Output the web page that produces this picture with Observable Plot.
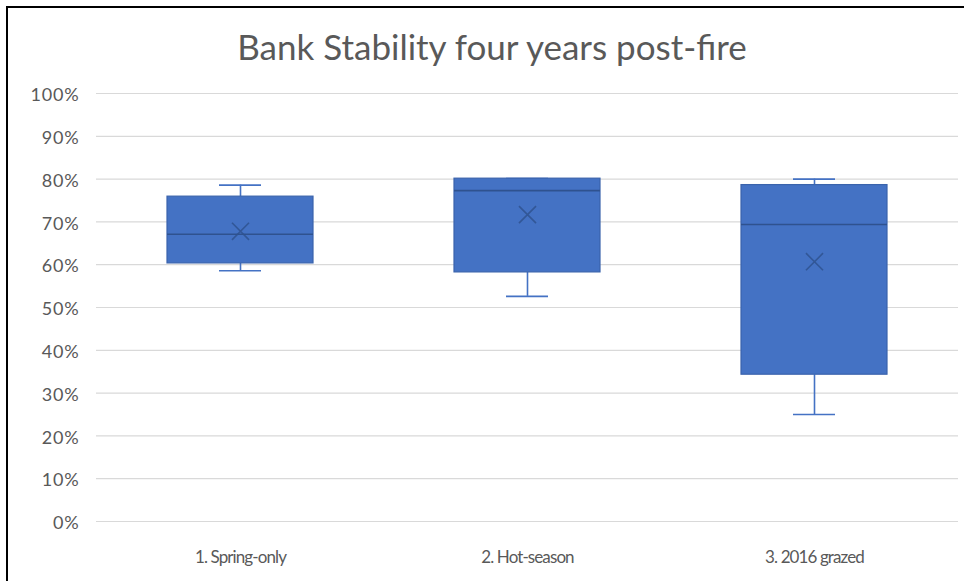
<!DOCTYPE html>
<html>
<head>
<meta charset="utf-8">
<script src="https://cdn.jsdelivr.net/npm/d3@7"></script>
<script src="https://cdn.jsdelivr.net/npm/@observablehq/plot@0.6"></script>
<style>
  html, body { margin: 0; padding: 0; background: #fff; }
  #frame {
    position: relative; width: 964px; height: 581px; overflow: hidden;
    font-family: Lato, "Open Sans", sans-serif;
  }
  #frame::before {
    content: ""; position: absolute; left: 6px; top: 6px; width: 2000px; height: 2000px;
    border-left: 2px solid #000; border-top: 2px solid #000; box-sizing: border-box;
    pointer-events: none;
  }
  #title {
    position: absolute; left: 0; top: 0; width: 984px; height: 80px;
    display: flex; align-items: center; justify-content: center;
    font-size: 35px; color: #595959; padding-top: 12px; box-sizing: border-box;
  }
  #chart { position: absolute; left: 0; top: 80px; }
  #chart g[aria-label="y-axis tick label"] text { letter-spacing: 0.8px; }
  #chart g[aria-label="x-axis tick label"] text { letter-spacing: -0.9px; }
</style>
</head>
<body>
<div id="frame">
  <div id="title">Bank Stability four years post-fire</div>
  <div id="chart"></div>
</div>
<script>
// Box-and-whisker summary per treatment (fractions of bank length)
const groups  = ["1. Spring-only", "2. Hot-season", "3. 2016 grazed"];
const minimum = [0.586, 0.526, 0.250];
const q1      = [0.603, 0.582, 0.343];
const median  = [0.671, 0.773, 0.694];
const q3      = [0.759, 0.801, 0.786];
const maximum = [0.786, 0.801, 0.800];
const mean    = [0.678, 0.717, 0.607];
const yTicks  = [0, 0.1, 0.2, 0.3, 0.4, 0.5, 0.6, 0.7, 0.8, 0.9, 1.0];

const rows = groups.map((g, i) => ({
  group: g, min: minimum[i], q1: q1[i], median: median[i],
  q3: q3[i], max: maximum[i], mean: mean[i]
}));

const fill = "#4472C4";
const dark = "#2F528F";

const chart = Plot.plot({
  width: 964,
  height: 501,
  marginTop: 13,
  marginBottom: 60,
  marginLeft: 96,
  marginRight: 6,
  style: { fontFamily: "Lato, 'Open Sans', sans-serif", fontSize: "15px", color: "#595959", background: "transparent" },
  x: { domain: groups, paddingInner: 0.49, paddingOuter: 0.245, label: null },
  y: { domain: [0, 1], label: null },
  marks: [
    Plot.ruleY(yTicks, { stroke: "#D9D9D9", strokeWidth: 1.2 }),
    Plot.ruleX([0], { frameAnchor: "left", y1: 0, y2: 1, stroke: "#D9D9D9", strokeWidth: 1.2 }),
    Plot.axisY({ ticks: yTicks, tickSize: 0, tickPadding: 17, dy: 2, tickFormat: d3.format(".0%"), fill: "#595959", fontSize: 18 }),
    Plot.axisX({ tickSize: 0, tickPadding: 29, fill: "#595959", fontSize: 17 }),
    // whiskers
    Plot.ruleX(rows, { x: "group", y1: "min", y2: "q1", stroke: fill, strokeWidth: 1.6 }),
    Plot.ruleX(rows, { x: "group", y1: "q3", y2: "max", stroke: fill, strokeWidth: 1.6 }),
    Plot.tickY(rows, { x: "group", y: "min", stroke: fill, strokeWidth: 1.6, insetLeft: 52, insetRight: 52 }),
    Plot.tickY(rows, { x: "group", y: "max", stroke: fill, strokeWidth: 1.6, insetLeft: 52, insetRight: 52 }),
    // interquartile box
    Plot.barY(rows, { x: "group", y1: "q1", y2: "q3", fill: fill, stroke: "#3A63AC", strokeWidth: 1.2 }),
    // median line
    Plot.tickY(rows, { x: "group", y: "median", stroke: dark, strokeWidth: 1.6 }),
    // mean marker
    Plot.dot(rows, { x: "group", y: "mean", symbol: "times", r: 7.8, stroke: dark, strokeWidth: 1.6, strokeOpacity: 0.85 })
  ]
});

document.getElementById("chart").appendChild(chart);
</script>
</body>
</html>
